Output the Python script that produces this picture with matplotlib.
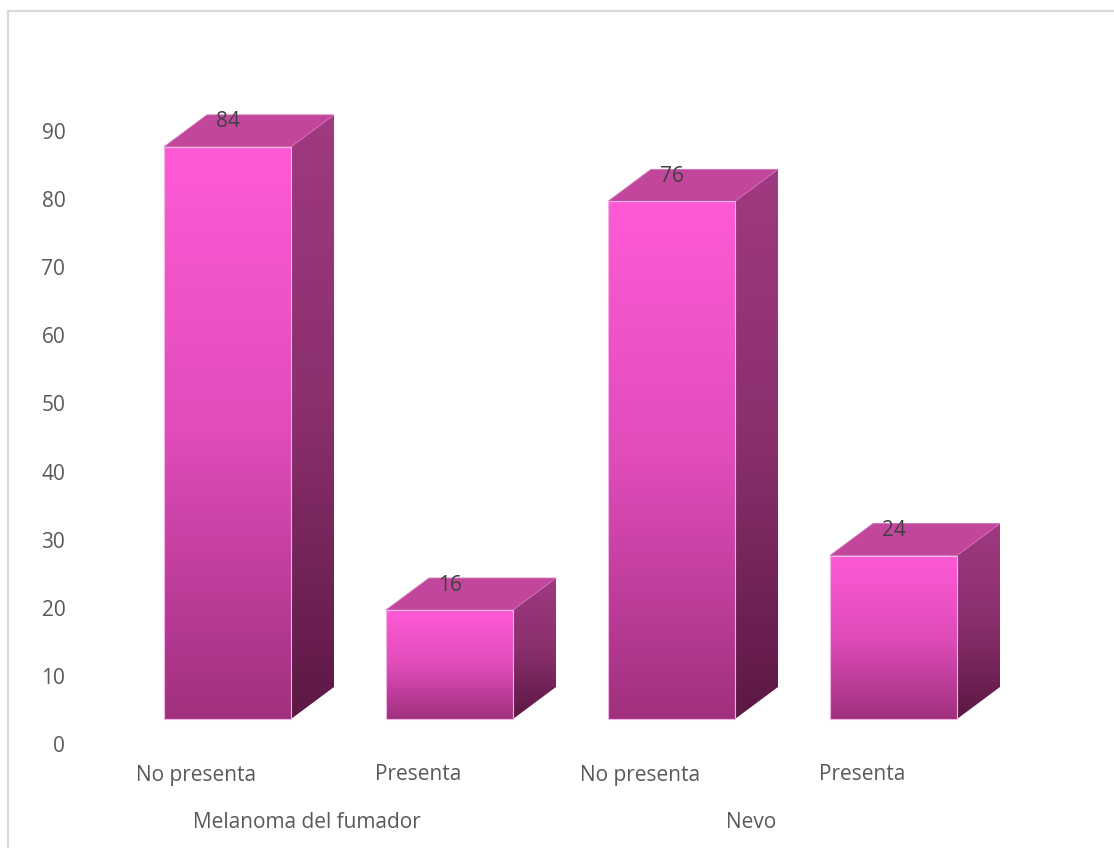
import numpy as np
import matplotlib.pyplot as plt
from matplotlib.patches import Polygon, Rectangle
from matplotlib.colors import LinearSegmentedColormap

# survey counts per category
groups = ["Melanoma del fumador", "Nevo"]
categories = ["No presenta", "Presenta", "No presenta", "Presenta"]
values = [84, 16, 76, 24]
y_ticks = list(range(0, 100, 10))

W, H = 1114, 848
fig = plt.figure(figsize=(W / 100, H / 100), dpi=100)
plt.rcParams['font.family'] = ['Open Sans', 'DejaVu Sans']

# light frame around the chart area
fig.patches.append(Rectangle((8 / W, -0.1), 1.2, (H - 11) / H + 0.1,
                             transform=fig.transFigure, fill=False,
                             edgecolor='#d9d9d9', linewidth=1.6))

left_px, right_px, bottom_px, top_px = 75, 1030, 744, 131
ax = fig.add_axes([left_px / W, 1 - bottom_px / H,
                   (right_px - left_px) / W, (bottom_px - top_px) / H])
ppu_x = 222
x_lo = -(196 - left_px) / ppu_x
ax.set_xlim(x_lo, x_lo + (right_px - left_px) / ppu_x)
ax.set_ylim(0, 90)
for s in ax.spines.values():
    s.set_visible(False)

ax.set_yticks(y_ticks)
ax.tick_params(axis='y', length=0, pad=7, labelsize=15, labelcolor='#595959')
ax.set_xticks([])

# 3d box styling
px_y = (bottom_px - top_px) / 90
lift = 25 / px_y          # front face sits above the floor
dx = 43 / ppu_x           # depth offset
dy = 32 / px_y
off = -32 / ppu_x
width = 127 / ppu_x

front_cm = LinearSegmentedColormap.from_list('front', ['#a0307e', '#e04cba', '#ff5ad6'])
side_cm = LinearSegmentedColormap.from_list('side', ['#5c1844', '#8a2f6c', '#a03a82'])
grad = np.linspace(0, 1, 256).reshape(-1, 1)


def gradient_face(pts, cmap, extent):
    clip = Polygon(pts, closed=True, facecolor='none', edgecolor='none',
                   transform=ax.transData)
    ax.add_patch(clip)
    im = ax.imshow(grad, cmap=cmap, origin='lower', aspect='auto',
                   extent=extent, zorder=2)
    im.set_clip_box(fig.bbox)
    im.set_clip_path(clip)
    return im


for i, v in enumerate(values):
    x0 = i + off
    x1 = x0 + width
    y0 = lift
    y1 = lift + v

    # front face
    front_pts = [(x0, y0), (x1, y0), (x1, y1), (x0, y1)]
    gradient_face(front_pts, front_cm, (x0, x1, y0, y1))
    ax.add_patch(Polygon(front_pts, closed=True, fill=False, edgecolor='#f2b6e4',
                         linewidth=0.8, zorder=3, clip_on=False))

    # side face
    side_pts = [(x1, y0), (x1 + dx, y0 + dy), (x1 + dx, y1 + dy), (x1, y1)]
    gradient_face(side_pts, side_cm, (x1, x1 + dx, y0, y1 + dy))

    # top face
    ax.add_patch(Polygon([(x0, y1), (x1, y1), (x1 + dx, y1 + dy), (x0 + dx, y1 + dy)],
                         closed=True, facecolor='#c2469c', edgecolor='#d070b8',
                         linewidth=0.6, zorder=2, clip_on=False))

    ax.text(x0 + width / 2, y1 + 25 / px_y, str(v), ha='center', va='center',
            fontsize=15, color='#404040', zorder=4, clip_on=False)

    ax.text(i, -(775 - bottom_px) / px_y, categories[i], ha='center', va='center',
            fontsize=15, color='#595959', clip_on=False)

for g, name in enumerate(groups):
    ax.text(2 * g + 0.5, -(822 - bottom_px) / px_y, name, ha='center', va='center',
            fontsize=15, color='#595959', clip_on=False)

fig.savefig('out.png', dpi=100)
